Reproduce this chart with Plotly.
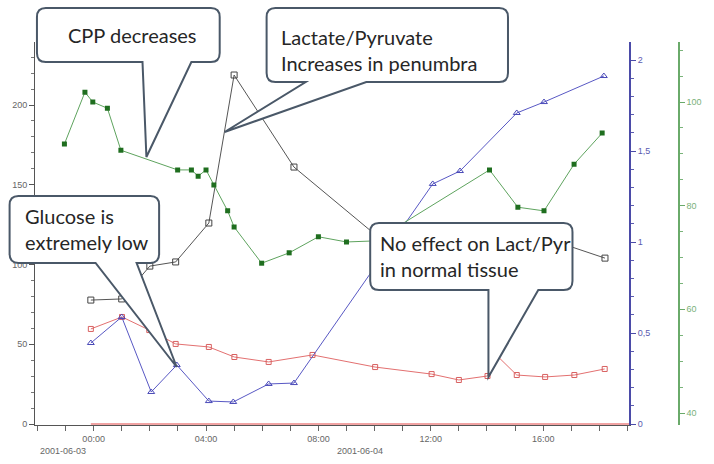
import plotly.graph_objects as go

# ---------------- data (hours from 2001-06-03 00:00) ----------------
cpp_hours = [-1.04, -0.31, -0.03, 0.49, 0.97, 2.99, 3.48, 3.72, 4.0, 4.28, 4.77, 5.0,
             5.98, 6.96, 8.0, 9.0, 10.0, 14.09, 15.1, 16.03, 17.1, 18.1]
cpp_values = [91.9, 101.9, 100.0, 98.8, 90.7, 86.9, 86.9, 85.7, 86.9, 84.0, 79.0, 75.9,
              68.9, 70.9, 74.0, 73.0, 73.2, 86.9, 79.7, 79.0, 88.0, 94.0]

lp_pen_hours = [-0.1, 1.0, 2.0, 2.92, 4.1, 5.0, 7.13, 10.0, 16.07, 18.2]
lp_pen_values = [77.7, 78.4, 99.0, 101.6, 126.0, 218.8, 161.1, 119.1, 116.6, 104.0]

glu_hours = [-0.1, 1.0, 2.05, 2.96, 4.1, 4.97, 6.23, 7.13, 12.07, 13.04, 15.06, 16.03, 18.16]
glu_values = [0.445, 0.588, 0.176, 0.324, 0.126, 0.121, 0.22, 0.225, 1.319, 1.39,
              1.709, 1.769, 1.912]

lp_norm_hours = [-0.1, 1.01, 1.98, 2.92, 4.1, 5.01, 6.23, 7.79, 10.02, 12.03, 13.0, 14.02,
                 14.33, 15.06, 16.07, 17.11, 18.19]
lp_norm_values = [59.6, 67.1, 58.9, 50.2, 48.3, 42.0, 38.9, 43.3, 35.7, 31.3, 27.6, 30.1,
                  43.3, 30.7, 29.5, 30.7, 34.5]

baseline_hours = [-0.1, 19.2]
baseline_values = [0, 0]

x_tick_hours = list(range(-2, 20))
x_tick_labels = {0: "00:00", 4: "04:00", 8: "08:00", 12: "12:00", 16: "16:00"}
date_labels = ["2001-06-03", "2001-06-04"]

# ---------------- layout helpers (pixel -> paper) ----------------
W, H = 714, 464
ML, MR, MT, MB = 33, 22, 42, 39
PW, PH = W - ML - MR, H - MT - MB


def px(x):
    return (x - ML) / PW


def py(y):
    return (H - MB - y) / PH


def callout(x0, y0, x1, y1, bx0, bx1, tx, ty, r=9):
    def P(x, y):
        return f"{px(x):.5f},{py(y):.5f}"

    d = (f"M {P(x0 + r, y0)} L {P(x1 - r, y0)} Q {P(x1, y0)} {P(x1, y0 + r)} "
         f"L {P(x1, y1 - r)} Q {P(x1, y1)} {P(x1 - r, y1)} "
         f"L {P(bx1, y1)} L {P(tx, ty)} L {P(bx0, y1)} "
         f"L {P(x0 + r, y1)} Q {P(x0, y1)} {P(x0, y1 - r)} "
         f"L {P(x0, y0 + r)} Q {P(x0, y0)} {P(x0 + r, y0)} Z")
    return dict(type="path", xref="paper", yref="paper", path=d,
                fillcolor="white", line=dict(color="#4a5868", width=2), layer="above")


fig = go.Figure()

fig.add_trace(go.Scatter(x=baseline_hours, y=baseline_values, mode="lines",
                         line=dict(color="#e34848", width=1.2), yaxis="y", showlegend=False))
fig.add_trace(go.Scatter(x=cpp_hours, y=cpp_values, mode="lines+markers", yaxis="y3",
                         line=dict(color="#5ea35e", width=1),
                         marker=dict(symbol="square", size=5, color="#1f6e1f"), showlegend=False))
fig.add_trace(go.Scatter(x=lp_norm_hours, y=lp_norm_values, mode="lines+markers", yaxis="y",
                         line=dict(color="#e37070", width=1),
                         marker=dict(symbol="square-open", size=5, color="#d86060"), showlegend=False))
fig.add_trace(go.Scatter(x=lp_pen_hours, y=lp_pen_values, mode="lines+markers", yaxis="y",
                         line=dict(color="#555555", width=1),
                         marker=dict(symbol="square-open", size=6, color="#444444"), showlegend=False))
fig.add_trace(go.Scatter(x=glu_hours, y=glu_values, mode="lines+markers", yaxis="y2",
                         line=dict(color="#5858c4", width=1),
                         marker=dict(symbol="triangle-up-open", size=6, color="#4a4ab8"), showlegend=False))

tick_font = dict(family="Liberation Sans, Arial", size=9, color="#666666")

fig.update_layout(
    width=W, height=H,
    margin=dict(l=ML, r=MR, t=MT, b=MB),
    plot_bgcolor="white", paper_bgcolor="white",
    separators=", ",
    xaxis=dict(domain=[0, 608 / PW], range=[-2.087, 19.061],
               tickmode="array", tickvals=x_tick_hours,
               ticktext=[x_tick_labels.get(h, "") for h in x_tick_hours],
               ticks="outside", ticklen=5, tickcolor="#666666",
               showline=True, linecolor="#555555", linewidth=1,
               showgrid=False, zeroline=False, tickfont=tick_font),
    yaxis=dict(range=[-0.627, 239.5], tickmode="linear", tick0=0, dtick=50,
               ticks="outside", ticklen=5, tickcolor="#555555",
               minor=dict(dtick=10, tick0=0, ticks="outside", ticklen=3, tickcolor="#777777"),
               showline=True, linecolor="#555555", linewidth=1,
               showgrid=False, zeroline=False, tickfont=tick_font),
    yaxis2=dict(overlaying="y", anchor="x", side="right",
                range=[-0.0055, 2.099], tickmode="linear", tick0=0, dtick=0.5,
                ticks="outside", ticklen=5, tickcolor="#4b4ba8",
                minor=dict(dtick=0.1, tick0=0, ticks="outside", ticklen=3, tickcolor="#5a5ab0"),
                showline=True, linecolor="#4b4ba8", linewidth=1.5,
                showgrid=False, zeroline=False,
                tickfont=dict(family="Liberation Sans, Arial", size=9, color="#5a5ab0")),
    yaxis3=dict(overlaying="y", anchor="free", position=1.0, side="right",
                range=[37.685, 111.58], tickmode="linear", tick0=0, dtick=20,
                ticks="outside", ticklen=5, tickcolor="#6aaa6a",
                minor=dict(dtick=5, tick0=0, ticks="outside", ticklen=3, tickcolor="#7ab47a"),
                showline=True, linecolor="#6aaa6a", linewidth=1.5,
                showgrid=False, zeroline=False,
                tickfont=dict(family="Liberation Sans, Arial", size=9, color="#7ab07a")),
    shapes=[
        callout(35, 8, 222, 62, 143, 193, 147, 157),
        callout(270, 8, 517, 82, 310, 372, 227, 132),
        callout(7, 196, 160, 263, 95, 137, 178, 367),
        callout(376, 223, 583, 290, 497, 548, 497, 377),
    ],
)

text_font = dict(family="Lato, Open Sans, sans-serif", size=20, color="#262626")
notes = [
    ("CPP decreases", 133, 35, "center"),
    ("Lactate/Pyruvate<br>Increases in penumbra", 283, 50, "left"),
    ("Glucose is<br>extremely low", 21, 229, "left"),
    ("No effect on Lact/Pyr<br>in normal tissue", 384, 256, "left"),
]
for txt, x, y, anc in notes:
    fig.add_annotation(text=txt, x=px(x), y=py(y), xref="paper", yref="paper",
                       xanchor=anc, yanchor="middle", align="left", showarrow=False,
                       font=text_font)

for lbl, x in zip(date_labels, [62, 366]):
    fig.add_annotation(text=lbl, x=px(x), y=py(451), xref="paper", yref="paper",
                       xanchor="center", yanchor="middle", showarrow=False, font=tick_font)

fig.write_html("out.html")
